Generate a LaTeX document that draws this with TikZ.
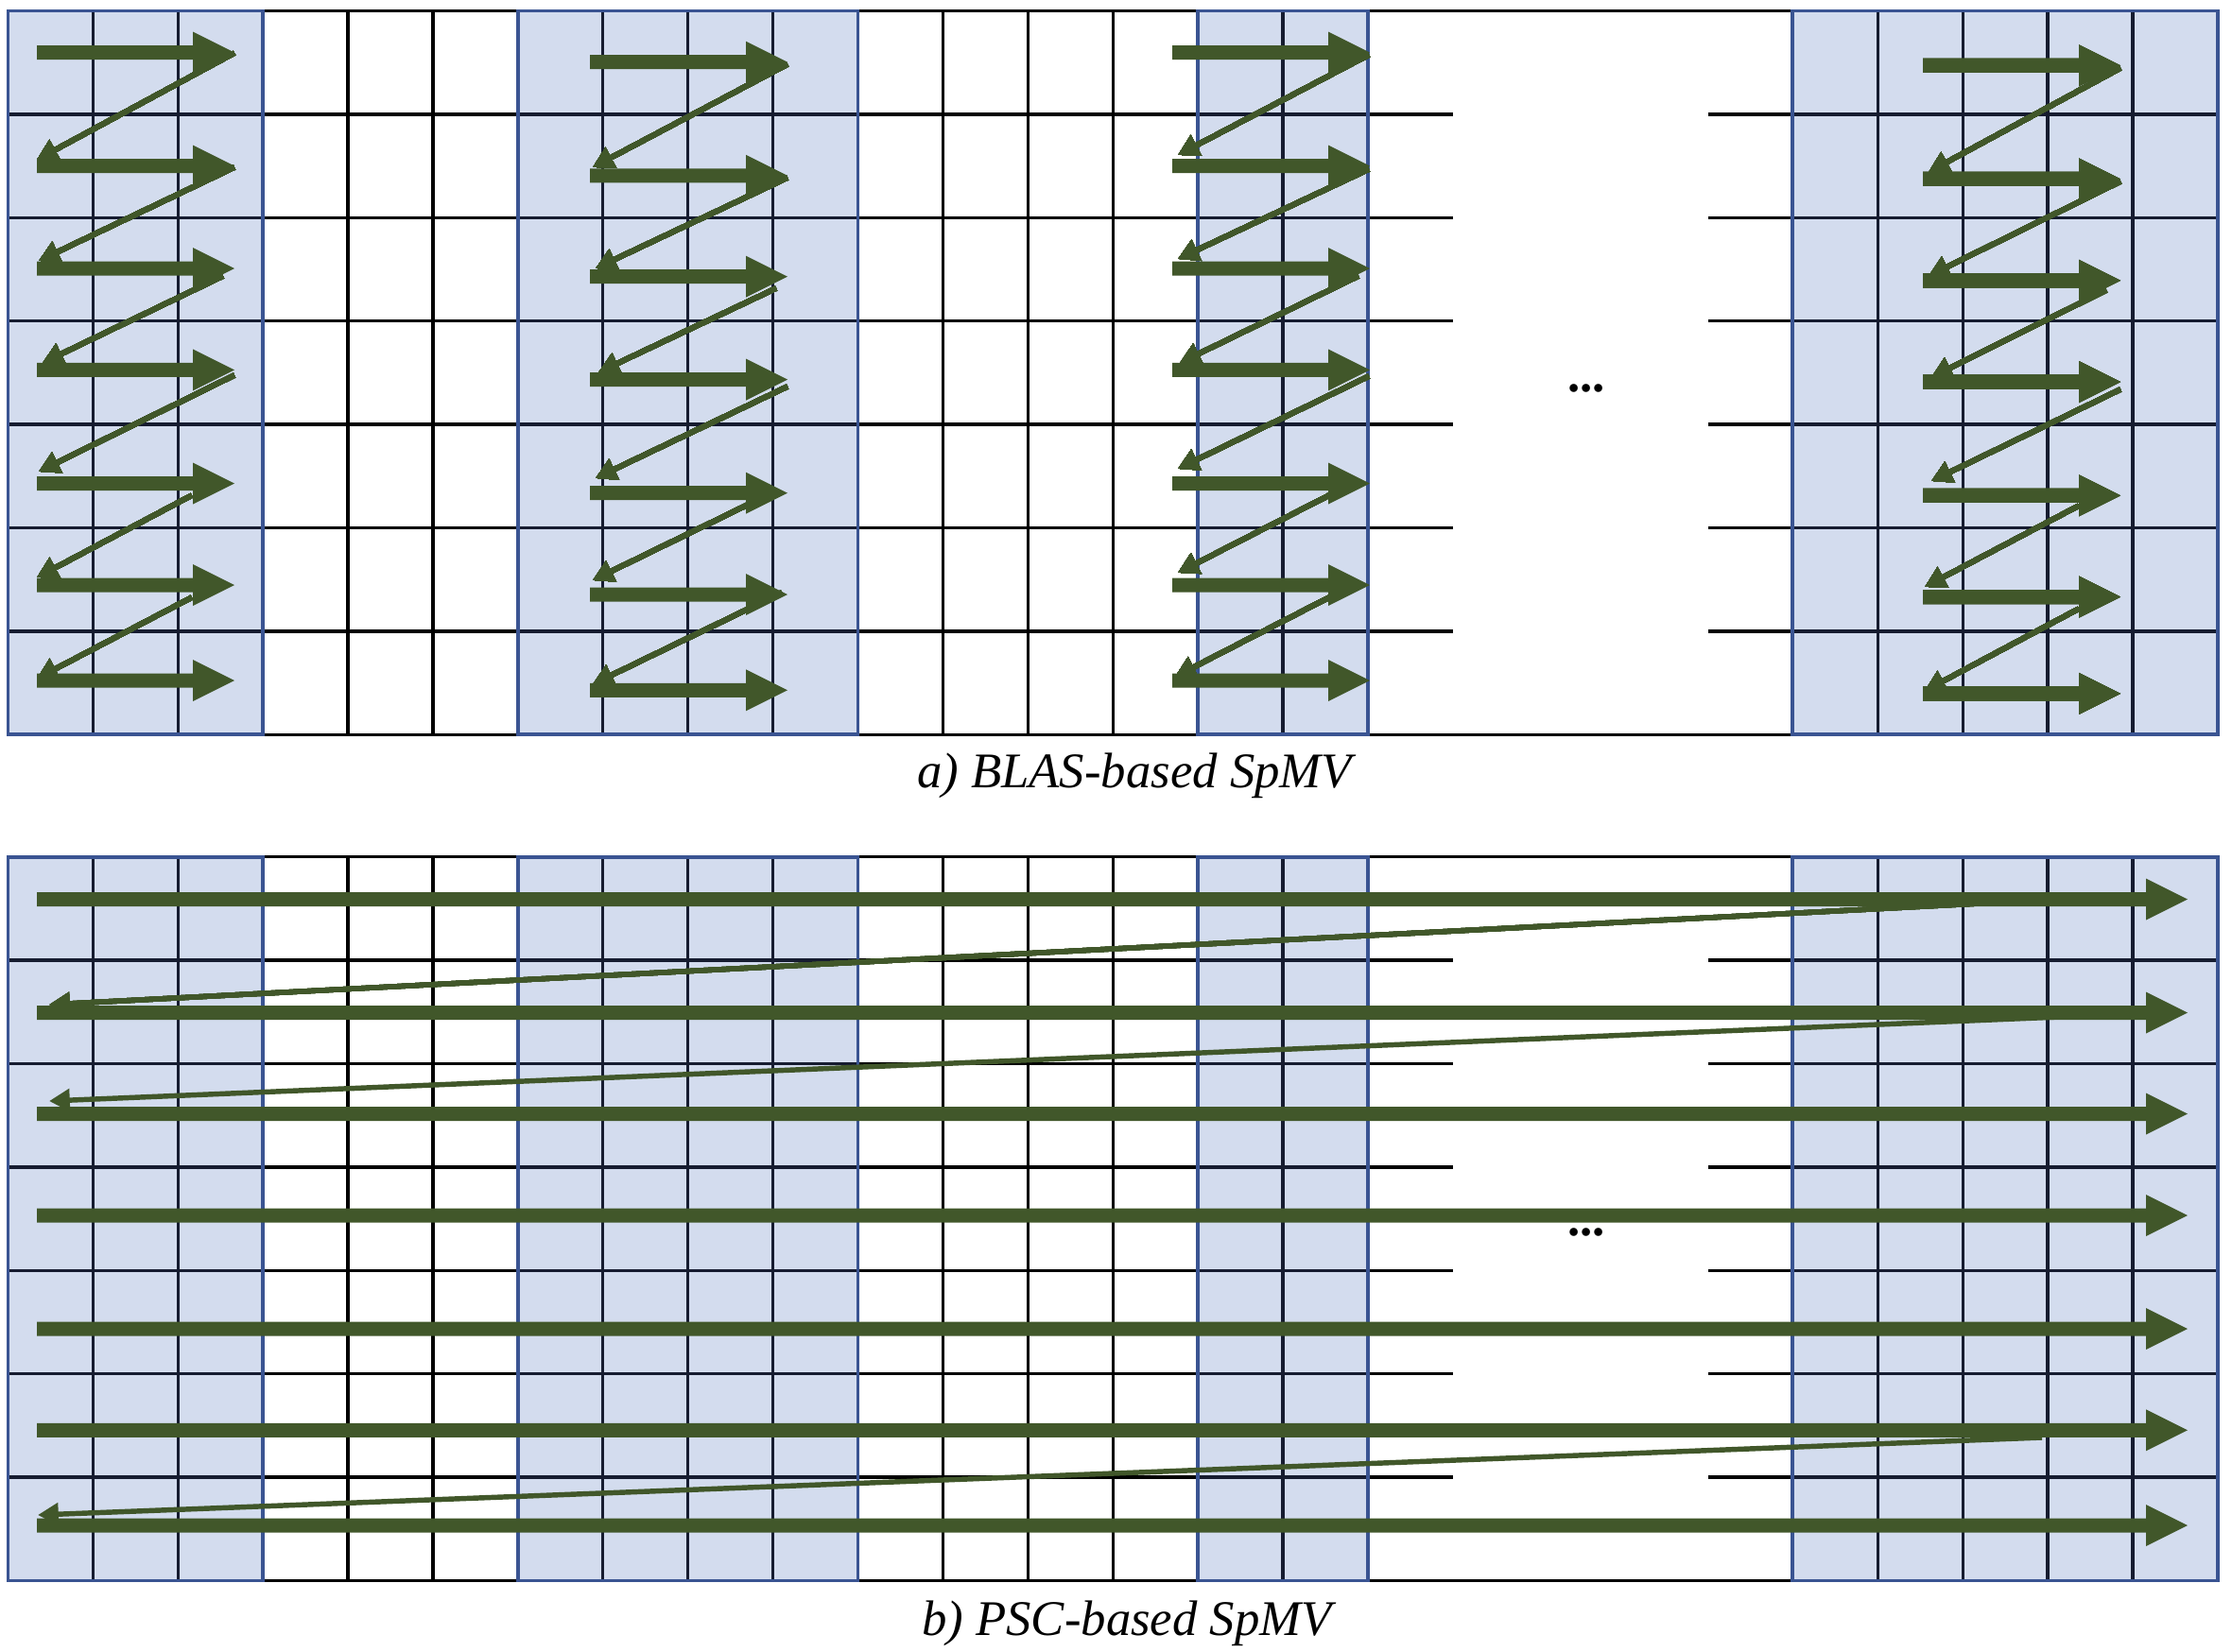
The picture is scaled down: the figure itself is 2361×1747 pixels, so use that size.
\documentclass[tikz,border=0pt]{standalone}
\usepackage{fontspec}
\setmainfont{Liberation Serif}
\usetikzlibrary{arrows.meta}
\definecolor{cellblue}{RGB}{211,220,238}
\definecolor{edgeblue}{RGB}{58,84,146}
\definecolor{navyline}{RGB}{22,28,48}
\definecolor{arrgreen}{RGB}{65,87,42}
\newcommand{\BigArr}[3]{%
  \fill[arrgreen] (#1,{#3-7.5}) -- ({#2-44},{#3-7.5}) -- ({#2-44},{#3-22}) -- (#2,#3)
     -- ({#2-44},{#3+22}) -- ({#2-44},{#3+7.5}) -- (#1,{#3+7.5}) -- cycle;}
\begin{document}
\begin{tikzpicture}[x=0.01cm,y=-0.01cm,
  gridline/.style={line width=0.95pt,black},
  innerline/.style={line width=0.95pt,navyline},
  blockedge/.style={line width=1.1pt,edgeblue},
  backarrow/.style={line width=1.55pt,arrgreen,-{Triangle[length=6.2pt,width=6.6pt]}},
  caption/.style={font=\fontsize{15}{18}\selectfont\itshape,anchor=base,inner sep=0pt},
  dotslabel/.style={font=\fontsize{15}{18}\selectfont\bfseries,anchor=base,inner sep=0pt}]
\useasboundingbox (0,0) rectangle (2361,1747);
\fill[white] (0,0) rectangle (2361,1747);
\foreach \T in {11.5,906.7} {
  % blue blocks
  \foreach \a/\b in {0/3,6/10,14/16,21/26}
    \fill[cellblue] ({8.5+89.9*\a},\T) rectangle ({8.5+89.9*\b},{\T+765.8});
  % black horizontal lines
  \foreach \j in {0,...,7} {
    \draw[gridline] (8.5,{\T+109.4*\j}) -- (1446.9,{\T+109.4*\j});
    \draw[gridline] (1896.4,{\T+109.4*\j}) -- (2345.9,{\T+109.4*\j});
  }
  \foreach \j in {1,...,6} {
    \draw[gridline] (1446.9,{\T+109.4*\j}) -- (1536.8,{\T+109.4*\j});
    \draw[gridline] (1806.5,{\T+109.4*\j}) -- (1896.4,{\T+109.4*\j});
  }
  \draw[gridline] (1446.9,\T) -- (1896.4,\T);
  \draw[gridline] (1446.9,{\T+765.8}) -- (1896.4,{\T+765.8});
  % black vertical lines
  \foreach \i in {0,...,16,21,22,23,24,25,26}
    \draw[gridline] ({8.5+89.9*\i},\T) -- ({8.5+89.9*\i},{\T+765.8});
  % inner lines of blue blocks
  \foreach \a/\b/\c/\d in {0/3/1/2,6/10/7/9,14/16/15/15,21/26/22/25} {
    \foreach \i in {\c,...,\d}
      \draw[innerline] ({8.5+89.9*\i},\T) -- ({8.5+89.9*\i},{\T+765.8});
    \foreach \j in {1,...,6}
      \draw[innerline] ({8.5+89.9*\a},{\T+109.4*\j}) -- ({8.5+89.9*\b},{\T+109.4*\j});
    \draw[blockedge] ({8.5+89.9*\a},\T) rectangle ({8.5+89.9*\b},{\T+765.8});
  }
}
% ---- panel a: thick arrows
\foreach \y in {55.5,175.6,284,391.4,511.5,619,720} {
  \BigArr{39}{248}{\y}
  \BigArr{1240}{1449}{\y}
}
\foreach \y in {65.7,185.8,292.7,401.6,521.7,629,730.3}
  \BigArr{624}{833}{\y}
\foreach \y in {69.3,189.4,296.8,404.1,524.3,631.6,733.9}
  \BigArr{2034}{2243}{\y}
% ---- panel a: return arrows
\foreach \sx/\sy/\tx/\ty in {248/56/39/169,248/177/41/276,236/292/45/384,248/397/41/499,203/524/39/611,203/632/39/718,
  833/68/627/177,833/188/630/284,821/305/633/394,833/409/630/506,791/534/627/614,827/627/627/724,
  1448/58/1246/164,1448/179/1246/274,1437/292/1248/384,1448/398/1246/496,1406/524/1246/606,1406/632/1243/716,
  2243/72/2040/182,2243/192/2040/292,2228/307/2043/399,2243/412/2043/509,2199/535/2036/621,2199/644/2036/731}
  \draw[backarrow] (\sx,\sy) -- (\tx,\ty);
% ---- panel b
\foreach \y in {951.5,1071.5,1178.5,1286,1406,1513.3,1614}
  \BigArr{39}{2314}{\y}
\draw[backarrow] (2150,953) -- (52,1063);
\draw[backarrow] (2250,1073) -- (52,1165);
\draw[backarrow] (2160,1521) -- (40,1603);
% ---- texts
\node[dotslabel] (dotsa) at (1678,414) {...};
\node[dotslabel] (dotsb) at (1678,1307) {...};
\node[caption] (capa) at (1200,833) {a) BLAS-based SpMV};
\node[caption] (capb) at (1192,1730) {b) PSC-based SpMV};
\end{tikzpicture}
\end{document}
